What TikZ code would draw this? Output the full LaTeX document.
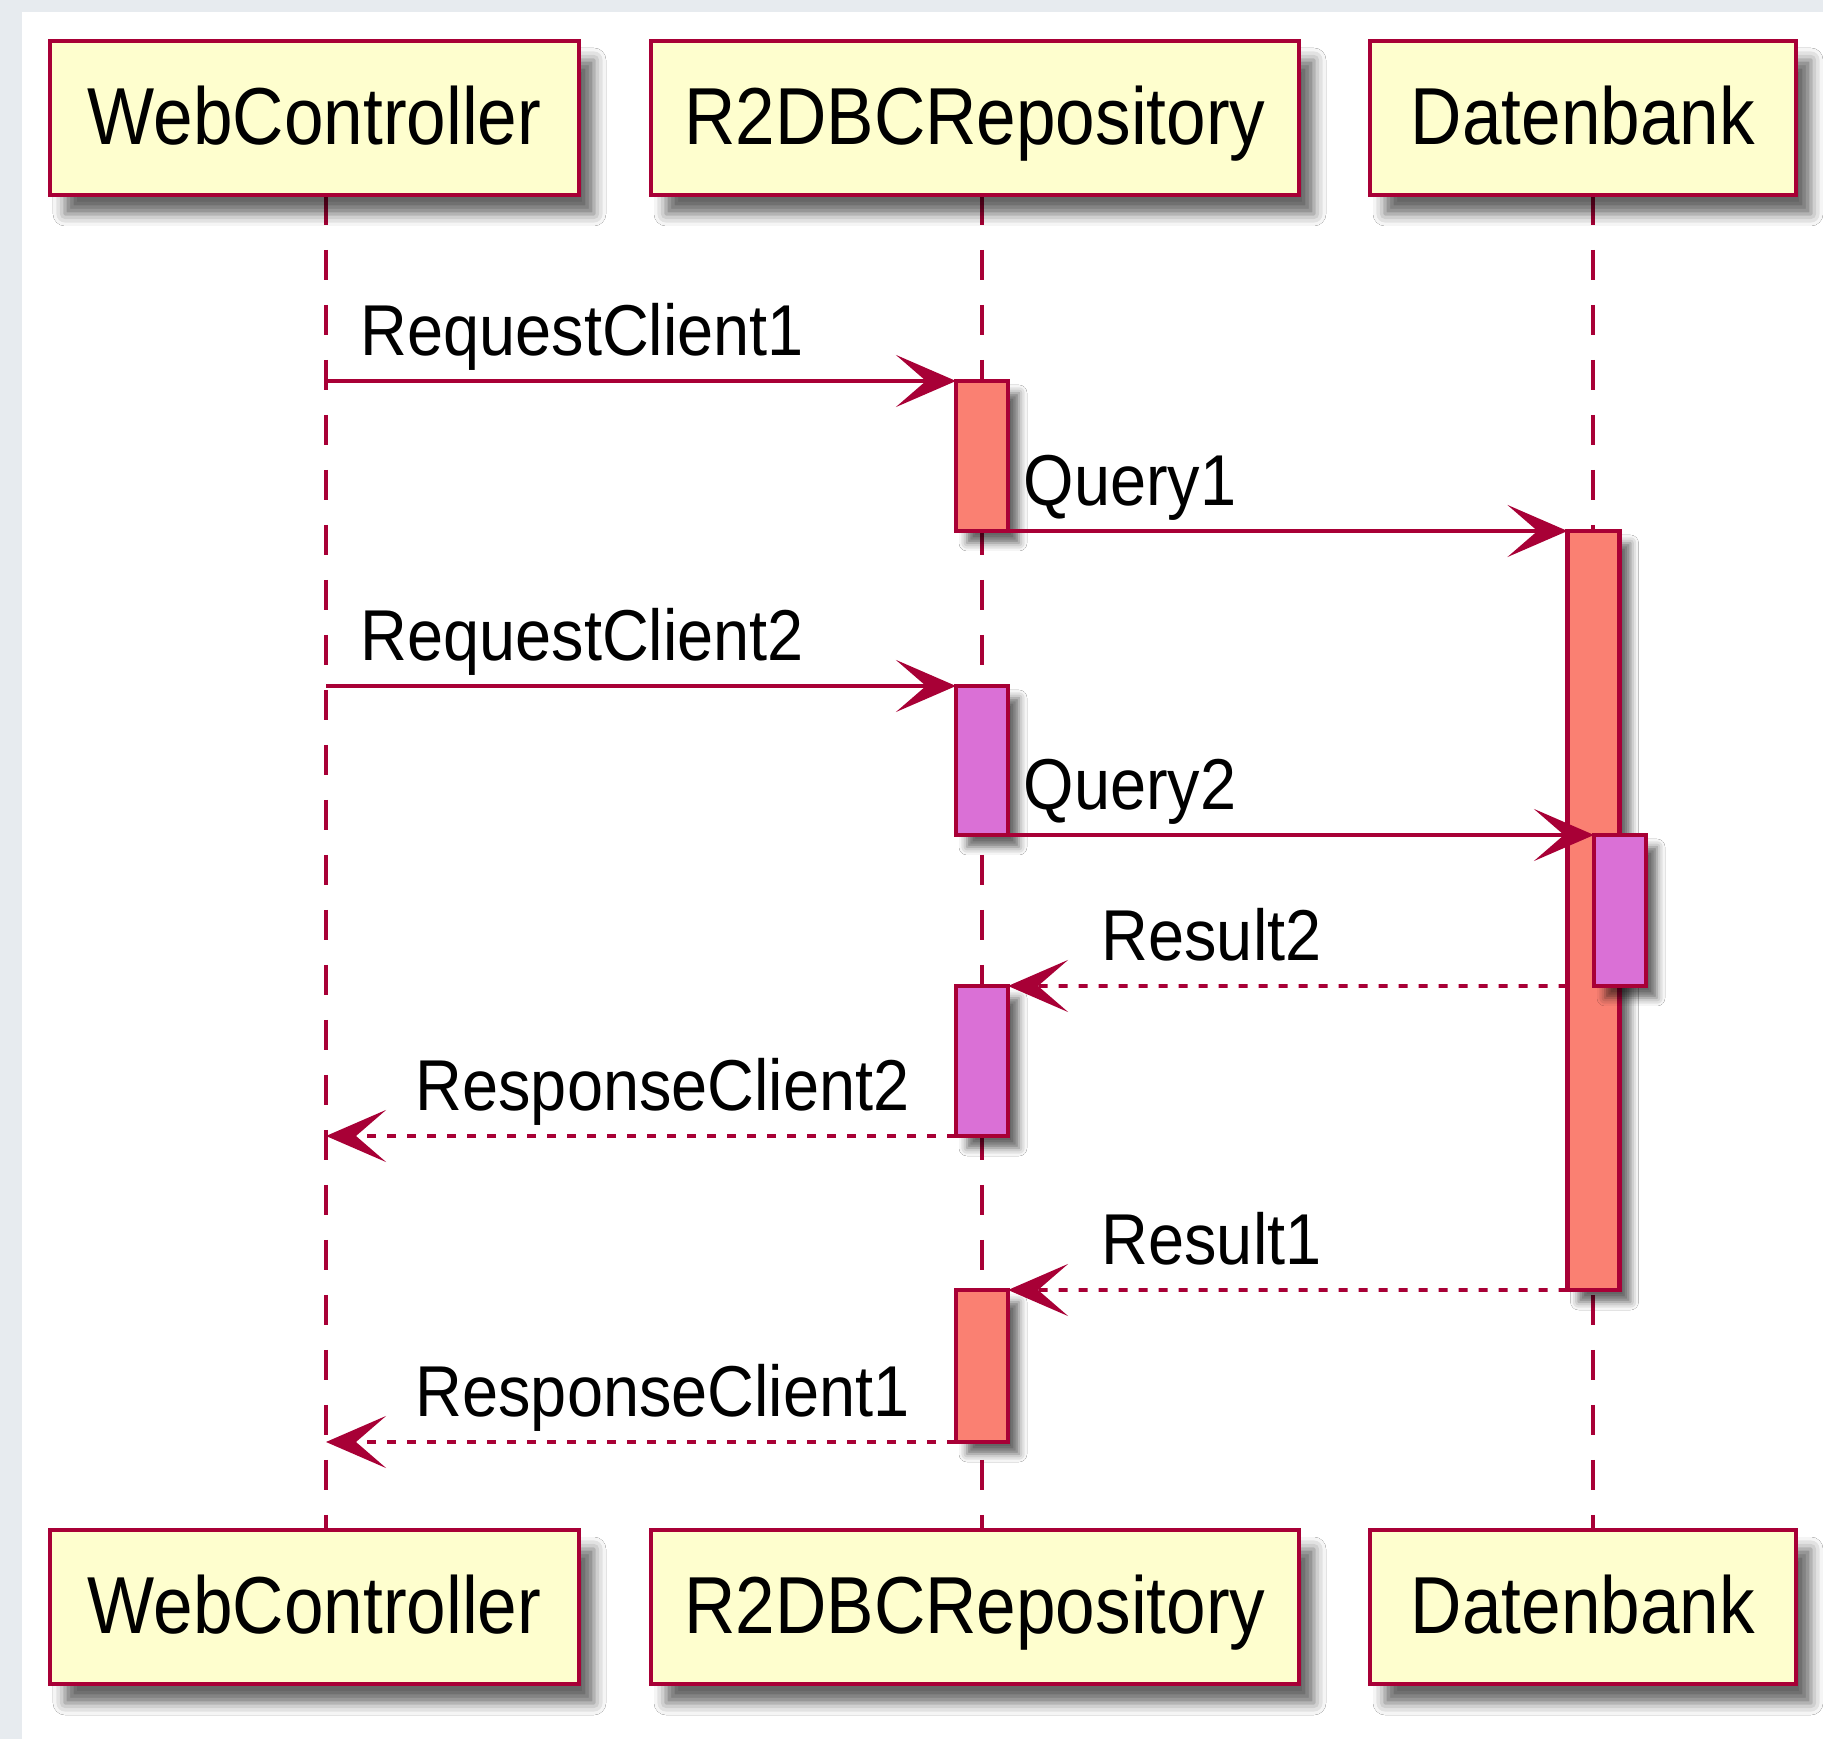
\documentclass[tikz,border=0pt]{standalone}
\usepackage{fontspec}
\setmainfont{Liberation Sans}[FakeStretch=0.88]
\newfontfamily\msgfont{Liberation Sans}[FakeStretch=0.9]
\usetikzlibrary{arrows.meta}
\usetikzlibrary{shadows.blur}

\definecolor{umlred}{HTML}{A80036}
\definecolor{umlbox}{HTML}{FEFECE}
\definecolor{actone}{HTML}{FA8072}
\definecolor{acttwo}{HTML}{DA70D6}
\definecolor{pagegray}{HTML}{E7EBEF}

\tikzset{
    participant/.style = {draw = umlred, fill = umlbox, line width = 1.4pt,
        minimum height = 1.54cm, inner sep = 0pt, outer sep = 0pt,
        text height = .72cm, text depth = .18cm, font = \fontsize{23}{27}\selectfont,
        blur shadow = {shadow xshift = .15cm, shadow yshift = -.19cm,
            shadow blur radius = .12cm, shadow opacity = 60}},
    activation/.style = {draw = umlred, line width = 1.2pt, minimum width = .52cm,
        inner sep = 0pt, outer sep = 0pt,
        blur shadow = {shadow xshift = .11cm, shadow yshift = -.12cm,
            shadow blur radius = .08cm, shadow opacity = 60}},
    lifeline/.style = {draw = umlred, line width = 1pt, dash pattern = on .3cm off .25cm},
    call/.style = {draw = umlred, line width = 1.1pt,
        -{Stealth[length = .6cm, width = .52cm, inset = .3cm]}},
    reply/.style = {call, dash pattern = on .09cm off .11cm},
    msg/.style = {anchor = base west, inner sep = 0pt, font = \msgfont\fontsize{20.5}{24}\selectfont}
}

\begin{document}
\begin{tikzpicture}
    \useasboundingbox (0,0) rectangle (18.23,-17.39);
    \fill[pagegray] (0,0) rectangle (18.23,-17.39);
    \fill[white] (0.22,-0.12) rectangle (18.23,-17.39);

    % x of the three lifelines
    \coordinate (wc) at (3.26,0);
    \coordinate (repo) at (9.82,0);
    \coordinate (db) at (15.93,0);

    \draw[lifeline] (wc |- 0,-1.95) -- (wc |- 0,-15.30);
    \draw[lifeline] (repo |- 0,-1.95) -- (repo |- 0,-15.30);
    \draw[lifeline] (db |- 0,-1.95) -- (db |- 0,-15.30);

    \node[participant, minimum width = 5.29cm] (wcT) at (3.145,-1.18) {WebController};
    \node[participant, minimum width = 6.48cm] (repoT) at (9.75,-1.18) {R2DBCRepository};
    \node[participant, minimum width = 4.26cm] (dbT) at (15.83,-1.18) {Datenbank};
    \node[participant, minimum width = 5.29cm] (wcB) at (3.145,-16.07) {WebController};
    \node[participant, minimum width = 6.48cm] (repoB) at (9.75,-16.07) {R2DBCRepository};
    \node[participant, minimum width = 4.26cm] (dbB) at (15.83,-16.07) {Datenbank};

    % activations
    \node[activation, fill = actone, minimum height = 1.50cm] (act1) at (9.82,-4.56) {};
    \node[activation, fill = acttwo, minimum height = 1.49cm] (act2) at (9.82,-7.605) {};
    \node[activation, fill = acttwo, minimum height = 1.50cm] (act3) at (9.82,-10.61) {};
    \node[activation, fill = actone, minimum height = 1.52cm] (act4) at (9.82,-13.66) {};
    \node[activation, fill = actone, minimum height = 7.59cm] (dbact1) at (15.935,-9.105) {};

    \draw[call] (wc |- act1.north) -- (act1.north west);
    \draw[call] (act1.south east) -- (dbact1.north west);
    \draw[call] (wc |- act2.north) -- (act2.north west);
    \node[activation, fill = acttwo, minimum height = 1.51cm] (dbact2) at (16.20,-9.105) {};
    \draw[call] (act2.south east) -- (dbact2.north west);
    \draw[reply] (dbact1.west |- dbact2.south) -- (act3.north east);
    \draw[reply] (act3.south west) -- (wc |- act3.south);
    \draw[reply] (dbact1.south west) -- (act4.north east);
    \draw[reply] (act4.south west) -- (wc |- act4.south);

    \node[msg] (rc1) at (3.60,-3.56) {RequestClient1};
    \node[msg] (q1) at (10.23,-5.06) {Query1};
    \node[msg] (rc2) at (3.60,-6.61) {RequestClient2};
    \node[msg] (q2) at (10.23,-8.10) {Query2};
    \node[msg] (res2) at (11.01,-9.61) {Result2};
    \node[msg] (resp2) at (4.15,-11.11) {ResponseClient2};
    \node[msg] (res1) at (11.01,-12.65) {Result1};
    \node[msg] (resp1) at (4.15,-14.17) {ResponseClient1};
\end{tikzpicture}
\end{document}
